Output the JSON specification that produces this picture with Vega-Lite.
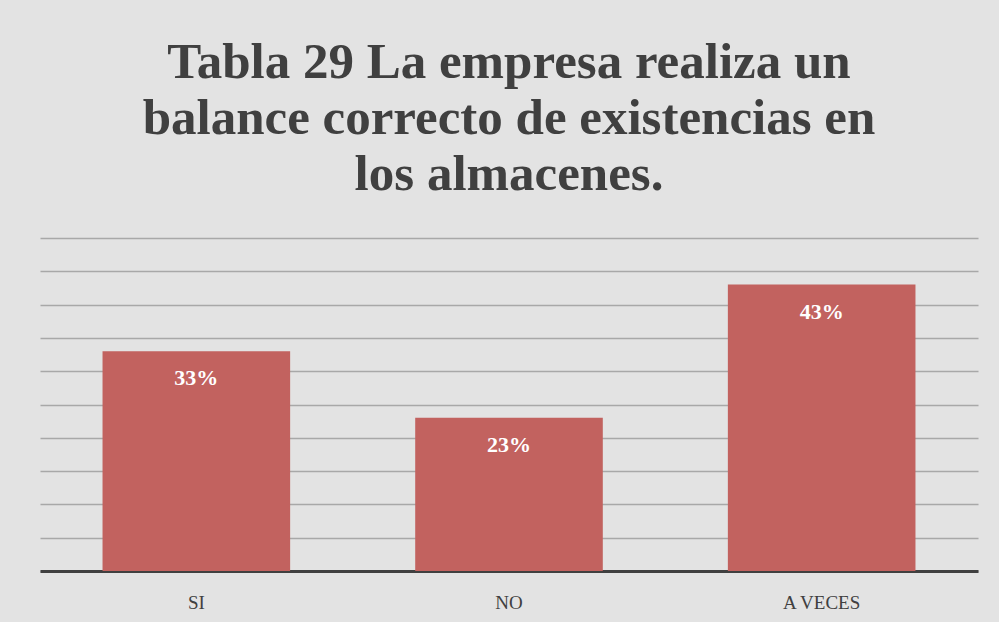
{
  "$schema": "https://vega.github.io/schema/vega-lite/v6.json",
  "width": 938,
  "height": 333,
  "autosize": {"type": "none"},
  "padding": {"left": 40, "top": 238, "right": 21, "bottom": 51},
  "background": "#e3e3e3",
  "title": {
    "text": ["Tabla 29 La empresa realiza un", "balance correcto de existencias en", "los almacenes."],
    "font": "Liberation Serif",
    "fontSize": 51,
    "fontWeight": "bold",
    "color": "#404040",
    "lineHeight": 56,
    "anchor": "middle",
    "baseline": "alphabetic",
    "offset": -3
  },
  "data": {
    "values": [
      {"respuesta": "SI", "porcentaje": 0.33},
      {"respuesta": "NO", "porcentaje": 0.23},
      {"respuesta": "A VECES", "porcentaje": 0.43}
    ]
  },
  "config": {"view": {"stroke": null}},
  "encoding": {
    "x": {
      "field": "respuesta",
      "type": "nominal",
      "sort": null,
      "scale": {"paddingInner": 0.4, "paddingOuter": 0.2},
      "axis": {
        "title": null,
        "labelAngle": 0,
        "labelFont": "Liberation Serif",
        "labelFontSize": 19,
        "labelColor": "#404040",
        "labelPadding": 22,
        "ticks": false,
        "domainColor": "#404040",
        "domainWidth": 3,
        "grid": false
      }
    },
    "y": {
      "field": "porcentaje",
      "type": "quantitative",
      "scale": {"domain": [0, 0.5]},
      "axis": {
        "title": null,
        "labels": false,
        "ticks": false,
        "domain": false,
        "values": [0, 0.05, 0.1, 0.15, 0.2, 0.25, 0.3, 0.35, 0.4, 0.45, 0.5],
        "gridColor": "#a8a8a8",
        "gridWidth": 1.5
      }
    }
  },
  "layer": [
    {"mark": {"type": "bar", "color": "#c2625f"}},
    {
      "mark": {"type": "text", "baseline": "middle", "dy": 27, "color": "white", "font": "Liberation Serif", "fontSize": 22, "fontWeight": "bold"},
      "encoding": {"text": {"field": "porcentaje", "type": "quantitative", "format": ".0%"}}
    }
  ]
}
